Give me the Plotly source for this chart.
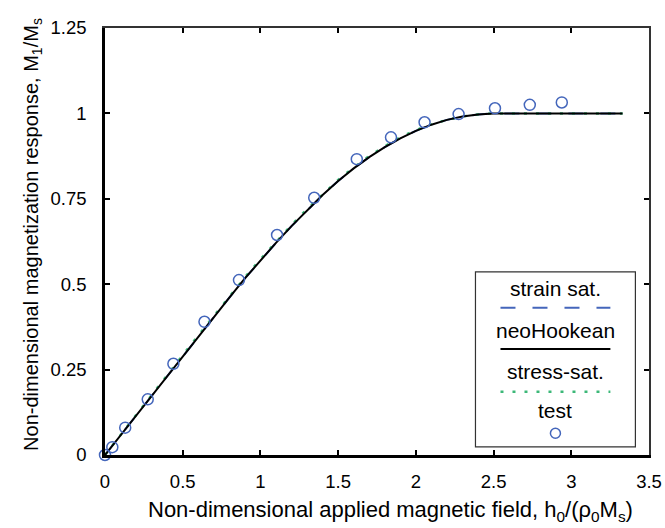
import plotly.graph_objects as go

# ---- data ----
field_curve = [0, 0.1, 0.2, 0.3, 0.4, 0.5, 0.6, 0.7, 0.8, 0.9, 1.0, 1.1, 1.2, 1.3, 1.4,
               1.5, 1.6, 1.7, 1.8, 1.9, 2.0, 2.1, 2.2, 2.3, 2.4, 2.5, 2.6, 2.8, 3.0, 3.2, 3.33]
strain_sat = [0, 0.058, 0.116, 0.174, 0.232, 0.289, 0.347, 0.404, 0.461, 0.517, 0.570,
              0.621, 0.670, 0.717, 0.761, 0.802, 0.839, 0.872, 0.901, 0.927, 0.949, 0.967,
              0.981, 0.991, 0.997, 1.0, 1.0, 1.0, 1.0, 1.0, 1.0]
neo_hookean = [0, 0.058, 0.116, 0.174, 0.232, 0.289, 0.347, 0.404, 0.461, 0.517, 0.570,
               0.621, 0.670, 0.717, 0.761, 0.802, 0.839, 0.872, 0.901, 0.927, 0.949, 0.967,
               0.981, 0.991, 0.997, 1.0, 1.0, 1.0, 1.0, 1.0, 1.0]
stress_sat = [0, 0.059, 0.118, 0.177, 0.235, 0.292, 0.350, 0.407, 0.464, 0.520, 0.573,
              0.624, 0.673, 0.720, 0.764, 0.805, 0.842, 0.875, 0.904, 0.930, 0.951, 0.968,
              0.981, 0.991, 0.997, 1.0, 1.0, 1.0, 1.0, 1.0, 1.0]

field_test = [0, 0.047, 0.13, 0.275, 0.44, 0.64, 0.862, 1.107, 1.346, 1.62, 1.84,
              2.056, 2.275, 2.509, 2.733, 2.939]
response_test = [0, 0.023, 0.080, 0.163, 0.267, 0.39, 0.512, 0.644, 0.753, 0.866, 0.930,
                 0.974, 0.998, 1.015, 1.025, 1.032]

x_ticks = [0, 0.5, 1, 1.5, 2, 2.5, 3, 3.5]
x_ticklabels = ["0", "0.5", "1", "1.5", "2", "2.5", "3", "3.5"]
y_ticks = [0, 0.25, 0.5, 0.75, 1, 1.25]
y_ticklabels = ["0", "0.25", "0.5", "0.75", "1", "1.25"]

x_title = "Non-dimensional applied magnetic field, h<sub>0</sub>/(ρ<sub>0</sub>M<sub>s</sub>)"
y_title = "Non-dimensional magnetization response, M<sub>1</sub>/M<sub>s</sub>"
legend_names = ["strain sat.", "neoHookean", "stress-sat.", "test"]

BLUE = "#4466bb"
GREEN = "#3cb878"
FONT = "Liberation Sans, Arial, sans-serif"

fig = go.Figure()
fig.add_trace(go.Scatter(x=field_curve, y=strain_sat, mode="lines",
                         line=dict(color=BLUE, width=2, dash="15px,17px"),
                         name=legend_names[0], showlegend=False))
fig.add_trace(go.Scatter(x=field_curve, y=stress_sat, mode="lines",
                         line=dict(color=GREEN, width=2.5, dash="3px,9px"),
                         name=legend_names[2], showlegend=False))
fig.add_trace(go.Scatter(x=field_curve, y=neo_hookean, mode="lines",
                         line=dict(color="black", width=2),
                         name=legend_names[1], showlegend=False))
fig.add_trace(go.Scatter(x=field_test, y=response_test, mode="markers", cliponaxis=False,
                         marker=dict(symbol="circle-open", size=11, color=BLUE,
                                     line=dict(width=1.5, color=BLUE)),
                         name=legend_names[3], showlegend=False))
# invisible trace to hold the top/right frame axes
fig.add_trace(go.Scatter(x=field_test, y=response_test, mode="markers",
                         marker=dict(opacity=0), xaxis="x2", yaxis="y2",
                         showlegend=False, hoverinfo="skip"))

axis_common = dict(ticks="inside", ticklen=5, tickwidth=1.5, tickcolor="black",
                   showgrid=False, zeroline=False, automargin=False)

# ---- custom legend (text above sample, as in reference) ----
lx0, lx1, ly0, ly1 = 0.681, 0.975, 0.019, 0.429
cx = (lx0 + lx1) / 2
shapes = [
    dict(type="rect", xref="paper", yref="paper", x0=lx0, x1=lx1, y0=ly0, y1=ly1,
         line=dict(color="#333333", width=1.2), fillcolor="white", layer="above"),
    dict(type="line", xref="paper", yref="paper", x0=0.727, x1=0.929, y0=0.345, y1=0.345,
         line=dict(color=BLUE, width=2, dash="15px,17px"), layer="above"),
    dict(type="line", xref="paper", yref="paper", x0=0.727, x1=0.929, y0=0.248, y1=0.248,
         line=dict(color="black", width=2), layer="above"),
    dict(type="line", xref="paper", yref="paper", x0=0.727, x1=0.929, y0=0.148, y1=0.148,
         line=dict(color=GREEN, width=2.5, dash="3px,9px"), layer="above"),
    dict(type="circle", xref="paper", yref="paper", xsizemode="pixel", ysizemode="pixel",
         xanchor=cx, yanchor=0.051, x0=-5, x1=5, y0=-5, y1=5,
         line=dict(color=BLUE, width=1.5), layer="above"),
]
label_y = [0.391, 0.291, 0.195, 0.105]
annotations = [dict(xref="paper", yref="paper", x=cx, y=yy, text=t, showarrow=False,
                    xanchor="center", yanchor="middle",
                    font=dict(family=FONT, size=21, color="black"))
               for t, yy in zip(legend_names, label_y)]
annotations.append(dict(xref="paper", yref="paper", x=0.524, y=-0.131, text=x_title,
                        showarrow=False, xanchor="center", yanchor="middle",
                        font=dict(family=FONT, size=22, color="black")))
annotations.append(dict(xref="paper", yref="paper", x=-0.1325, y=0.5176, text=y_title,
                        showarrow=False, xanchor="center", yanchor="middle", textangle=-90,
                        font=dict(family=FONT, size=20, color="black")))

fig.update_layout(
    width=665, height=528,
    margin=dict(l=105, r=16, t=28, b=73),
    paper_bgcolor="white", plot_bgcolor="white",
    font=dict(family=FONT, size=18.5, color="black"),
    showlegend=False,
    xaxis=dict(range=[0, 3.5], tickvals=x_ticks, ticktext=x_ticklabels,
               showline=True, linewidth=2.5, linecolor="black", ticklabelstandoff=8,
               **axis_common),
    yaxis=dict(range=[0, 1.25], tickvals=y_ticks, ticktext=y_ticklabels,
               showline=True, linewidth=2.5, linecolor="black", ticklabelstandoff=12,
               **axis_common),
    xaxis2=dict(range=[0, 3.5], tickvals=x_ticks, overlaying="x", side="top", anchor="y2",
                showticklabels=False, showline=True, linewidth=1.5, linecolor="#333333",
                **axis_common),
    yaxis2=dict(range=[0, 1.25], tickvals=y_ticks, overlaying="y", side="right", anchor="x2",
                showticklabels=False, showline=True, linewidth=1.5, linecolor="#333333",
                **axis_common),
    shapes=shapes,
    annotations=annotations,
)

fig.write_html("out.html", config={"displayModeBar": False},
               post_script="document.body.style.margin='0px';")
